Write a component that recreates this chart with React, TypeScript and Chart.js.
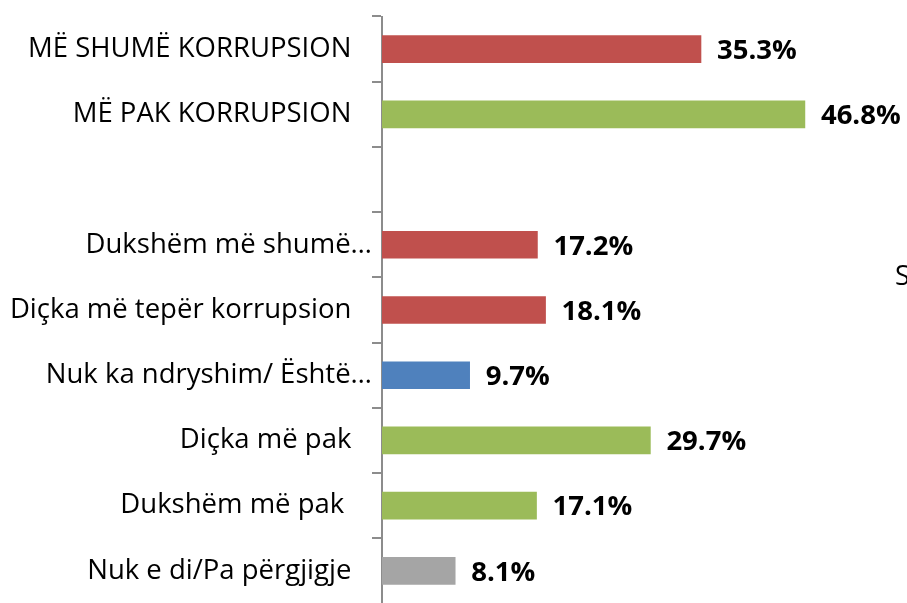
import React, { useEffect, useRef } from "react";
import { Chart, registerables } from "chart.js";

Chart.register(...registerables);

const categories: string[] = [
  "MË SHUMË KORRUPSION",
  "MË PAK KORRUPSION",
  "",
  "Dukshëm më shumë…",
  "Diçka më tepër korrupsion",
  "Nuk ka ndryshim/ Është…",
  "Diçka më pak",
  "Dukshëm më pak ",
  "Nuk e di/Pa përgjigje",
];

const values: (number | null)[] = [35.3, 46.8, null, 17.2, 18.1, 9.7, 29.7, 17.1, 8.1];

const barColors: string[] = [
  "#C0504D",
  "#9BBB59",
  "#C0504D",
  "#C0504D",
  "#C0504D",
  "#4F81BD",
  "#9BBB59",
  "#9BBB59",
  "#A5A5A5",
];

const FONT = "'Open Sans', sans-serif";

const valueLabels = {
  id: "valueLabels",
  afterDatasetsDraw(chart: any) {
    const ctx = chart.ctx;
    const meta = chart.getDatasetMeta(0);
    ctx.save();
    ctx.font = `bold 27.5px ${FONT}`;
    ctx.fillStyle = "#000000";
    ctx.textAlign = "left";
    ctx.textBaseline = "middle";
    meta.data.forEach((bar: any, i: number) => {
      const v = values[i];
      if (v === null || v === undefined) return;
      ctx.fillText(v.toFixed(1) + "%", bar.x + 16, bar.y + 2);
    });
    ctx.restore();
  },
};

export default function App() {
  const ref = useRef<HTMLCanvasElement | null>(null);

  useEffect(() => {
    document.body.style.margin = "0";
    if (!ref.current) return;
    const chart = new Chart(ref.current, {
      type: "bar",
      data: {
        labels: categories,
        datasets: [
          {
            data: values,
            backgroundColor: barColors,
            barThickness: 27,
          },
        ],
      },
      plugins: [valueLabels],
      options: {
        indexAxis: "y",
        animation: false,
        responsive: false,
        layout: { padding: { top: 13, bottom: 13, right: 28, left: 0 } },
        plugins: {
          legend: { display: false },
          tooltip: { enabled: false },
        },
        scales: {
          x: {
            display: false,
            min: 0,
            max: 55,
          },
          y: {
            afterFit(scale: any) {
              scale.width = 382;
            },
            border: { display: true, color: "#8C8C8C", width: 2 },
            grid: {
              display: true,
              drawOnChartArea: false,
              drawTicks: true,
              tickLength: 10,
              color: "#8C8C8C",
              lineWidth: 2,
              offset: true,
            },
            ticks: {
              padding: 0,
              color: "#000000",
              font: { family: FONT, size: 27.5 },
              callback(this: any, _v: any, i: number) {
                const l = categories[i];
                if (l.endsWith("…")) return l;
                return l + "\u2002\u2005";
              },
            },
          },
        },
      },
    });
    return () => chart.destroy();
  }, []);

  return (
    <div style={{ position: "fixed", left: 0, top: 0, width: 907, height: 603, overflow: "hidden", background: "#fff" }}>
      <canvas ref={ref} width={907} height={620} style={{ display: "block" }} />
      <div
        style={{
          position: "absolute",
          left: 895,
          top: 257,
          fontFamily: FONT,
          fontSize: 27,
          color: "#000",
          lineHeight: "36px",
        }}
      >
        S
      </div>
    </div>
  );
}
